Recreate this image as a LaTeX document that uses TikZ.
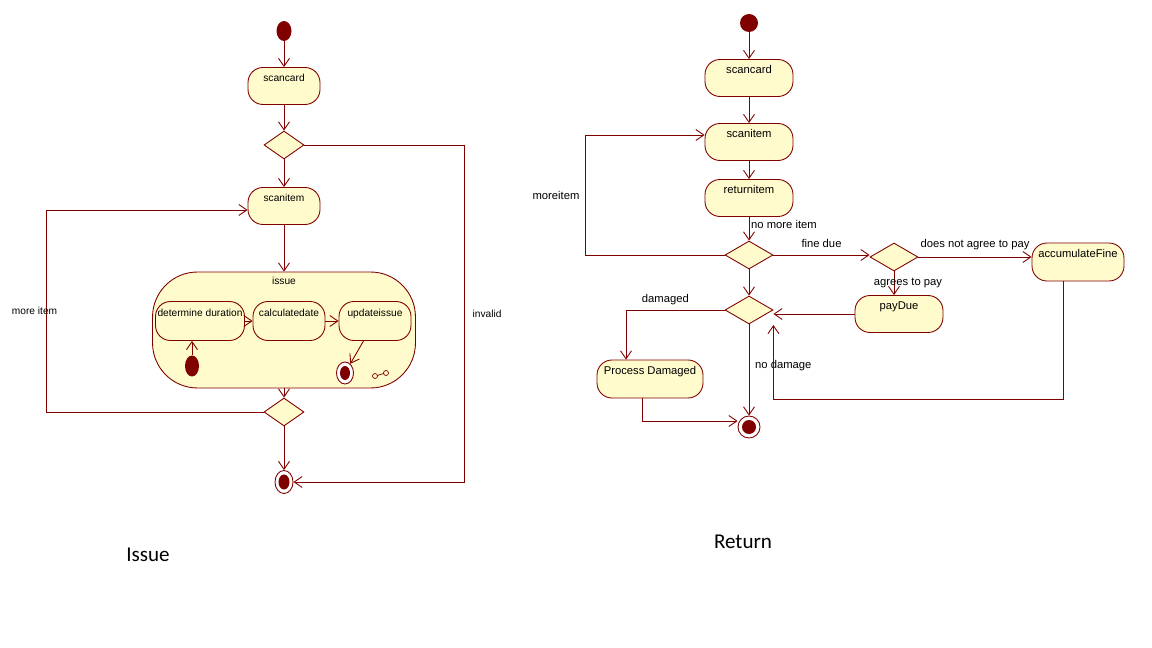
\documentclass[tikz,border=0pt]{standalone}
\usepackage{fontspec}
\setmainfont{Liberation Sans}
\newfontfamily\captionfont{Carlito}
\usetikzlibrary{calc, shapes.geometric, arrows.meta}
\definecolor{umlline}{RGB}{128,0,0}
\definecolor{umlfill}{RGB}{255,251,204}
\tikzset{
	wire/.style={draw=umlline, line width=0.5pt},
	flow/.style={wire, -{Straight Barb[length=1.6mm,width=2.2mm]}},
	act/.style={draw=umlline, fill=umlfill, line width=0.5pt, rounded corners=3mm, minimum width=17.6mm, minimum height=7.4mm, text height=4pt, text depth=9pt, inner sep=0pt, font=\fontsize{6.4}{7.5}\selectfont},
	smallact/.style={act, minimum width=14.4mm, font=\fontsize{5.8}{7}\selectfont},
	decision/.style={diamond, draw=umlline, fill=umlfill, line width=0.5pt, inner sep=0pt, minimum width=9.6mm, minimum height=5.6mm},
	startdot/.style={circle, fill=umlline, inner sep=0pt, minimum size=3.6mm},
	enddot/.style={circle, draw=umlline, fill=white, line width=0.5pt, inner sep=0pt, minimum size=4.4mm, path picture={\fill[umlline] (path picture bounding box.center) circle (1.4mm);}},
	lbl/.style={font=\fontsize{6.4}{7.5}\selectfont, inner sep=1pt},
	smalllbl/.style={font=\fontsize{5.8}{7}\selectfont, inner sep=1pt}
}
\begin{document}
\begin{tikzpicture}[x=0.02cm, y=-0.02cm]
	\path[use as bounding box, fill=white] (0,0) rectangle (1152,648);

	% Issue
	\node[ellipse, fill=umlline, inner sep=0pt, minimum width=3mm, minimum height=4mm] (istart) at (284,31) {};
	\node[smallact] (iscancard) at (284,86) {scancard};
	\node[decision, minimum width=8mm] (idec1) at (284,145) {};
	\node[smallact] (iscanitem) at (284,206) {scanitem};
	\node[draw=umlline, fill=umlfill, line width=0.5pt, rounded corners=9mm, minimum width=52.6mm, minimum height=23.2mm, label={[smalllbl, below=0.6mm]north:issue}] (issue) at (284,330) {};
	\node[smallact, minimum width=17.8mm, minimum height=7.8mm] (idet) at (200,321) {determine duration};
	\node[smallact, minimum height=7.8mm] (icalc) at (289,321) {calculatedate};
	\node[smallact, minimum height=7.8mm] (iupd) at (375,321) {updateissue};
	\node[ellipse, fill=umlline, inner sep=0pt, minimum width=2.8mm, minimum height=4.2mm] (iinit) at (192,366) {};
	\node[ellipse, draw=umlline, fill=white, line width=0.5pt, inner sep=0pt, minimum width=3.4mm, minimum height=4.4mm, path picture={\fill[umlline] (path picture bounding box.center) ellipse (1mm and 1.4mm);}] (ifin) at (345,373) {};
	\node[decision, minimum width=8mm] (idec2) at (284,412) {};
	\node[ellipse, draw=umlline, fill=white, line width=0.5pt, inner sep=0pt, minimum width=3.6mm, minimum height=4.6mm, path picture={\fill[umlline] (path picture bounding box.center) ellipse (1.1mm and 1.5mm);}] (iend) at (284,482) {};

	% rake icon
	\draw[wire, line width=0.4pt] (375,376) circle (2.5) (386,373) circle (2.5) (377.5,375.5) -- (383.5,373.5);

	\draw[flow] (istart) -- (iscancard);
	\draw[flow] (iscancard) -- (idec1);
	\draw[flow] (idec1) -- (iscanitem);
	\draw[flow] (iscanitem) -- (issue);
	\draw[flow] (iinit.north) -- (iinit.north |- idet.south);
	\draw[flow] (idet) -- (icalc);
	\draw[flow] (icalc) -- (iupd);
	\draw[flow] (iupd) -- (ifin);
	\draw[flow] (issue) -- (idec2);
	\draw[flow] (idec2) -- (iend);
	\draw[flow] (idec2.west) -- ++(-217,0) |- node[smalllbl, pos=0.25, xshift=-2.4mm] {more item} ($(iscanitem.west)+(0,4)$);
	\draw[flow] (idec1.east) -- ++(160,0) |- node[smalllbl, pos=0.25, anchor=west, xshift=1.2mm] {invalid} (iend.east);

	% Return
	\node[startdot] (rstart) at (749,23) {};
	\node[act] (rscancard) at (749,78) {scancard};
	\node[act] (rscanitem) at (749,142) {scanitem};
	\node[act] (rreturn) at (749,198) {returnitem};
	\node[decision] (rdecA) at (749,255) {};
	\node[decision] (rdecB) at (894,257) {};
	\node[act, minimum width=18.4mm, minimum height=7.6mm] (raccum) at (1078,262) {accumulateFine};
	\node[act] (rpay) at (899,314) {payDue};
	\node[decision] (rdecC) at (749,310) {};
	\node[act, minimum width=21.2mm, minimum height=7.6mm] (rproc) at (650,379) {Process Damaged};
	\node[enddot] (rend) at (749,427) {};

	\draw[flow] (rstart) -- (rscancard);
	\draw[flow] (rscancard) -- (rscanitem);
	\draw[flow] (rscanitem) -- (rreturn);
	\draw[flow] (rreturn) -- node[lbl, pos=0.3, anchor=west] {no more item} (rdecA);
	\draw[flow] (rdecA.west) -- ++(-139,0) |- node[lbl, pos=0.25, anchor=east, xshift=-0.8mm] {moreitem} ($(rscanitem.west)+(0,-7)$);
	\draw[flow] (rdecA.east) -- node[lbl, above=1mm] {fine due} (rdecA.east -| rdecB.west);
	\draw[flow] (rdecB.east) -- node[lbl, above=1mm] {does not agree to pay} (rdecB.east -| raccum.west);
	\draw[flow] (rdecB.south) -- node[lbl, xshift=2.8mm] {agrees to pay} (rdecB.south |- rpay.north);
	\draw[flow] (rpay.west) -- (rpay.west -| rdecC.east);
	\draw[flow] (rdecA) -- (rdecC);
	\draw[flow] (rdecC.west) -| node[lbl, pos=0.3, above=0.6mm] {damaged} ($(rproc.north)+(-24,0)$);
	\draw[flow] (rdecC) -- node[lbl, pos=0.45, anchor=west, xshift=0.8mm] {no damage} (rend);
	\draw[flow] ($(rproc.south)+(-8,0)$) |- ($(rend.west)+(0,-6)$);
	\draw[flow] ($(raccum.south)+(-15,0)$) -- ++(0,118) -| ($(rdecC.east)+(0,15)$);

	% captions
	\node[font=\captionfont\fontsize{12}{14}\selectfont] (capissue) at (148,555) {Issue};
	\node[font=\captionfont\fontsize{12}{14}\selectfont] (capreturn) at (743,542) {Return};
\end{tikzpicture}
\end{document}
